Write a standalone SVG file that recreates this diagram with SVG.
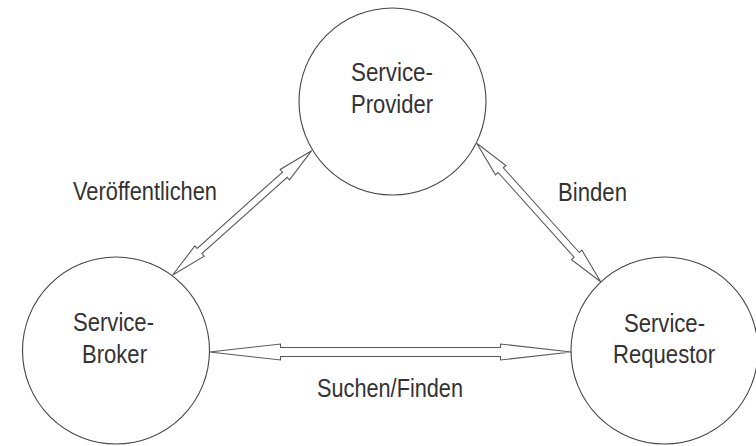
<svg xmlns="http://www.w3.org/2000/svg" width="756" height="446" viewBox="0 0 756 446">
  <style>
    .node { fill: #ffffff; stroke: #444444; stroke-width: 1.1; }
    .label { font-family: "Liberation Sans Narrow", "Liberation Sans", Arial, sans-serif; font-size: 25px; fill: #333333; }
    .arrow { fill: #ffffff; stroke: #5a5a5a; stroke-width: 1.1; stroke-linejoin: miter; }
  </style>
  <rect width="756" height="446" fill="#ffffff"/>

  <!-- hollow double-headed block arrows -->
  <g id="connectors">
    <polygon id="broker-provider" class="arrow" points="172.7,275 204.2,256.2 201.9,253.6 287.2,177.3 289.5,179.9 311.7,150.7 280.2,169.5 282.5,172.1 197.2,248.4 194.9,245.8"/>
    <polygon id="provider-requestor" class="arrow" points="476.7,143.3 495.5,174.8 498.1,172.5 574.1,257.2 571.5,259.6 600.7,281.7 581.9,250.2 579.3,252.5 503.3,167.8 505.9,165.5"/>
    <polygon id="broker-requestor" class="arrow" points="209.5,352 280.5,360 280.5,356.5 500.5,356.5 500.5,360 571.5,352 500.5,344 500.5,347.5 280.5,347.5 280.5,344"/>
    <text class="label" x="73" y="200" textLength="144" lengthAdjust="spacingAndGlyphs">Veröffentlichen</text>
    <text class="label" x="558" y="201" textLength="69" lengthAdjust="spacingAndGlyphs">Binden</text>
    <text class="label" x="317" y="397" textLength="146" lengthAdjust="spacingAndGlyphs">Suchen/Finden</text>
  </g>

  <g id="service-provider">
    <circle class="node" cx="392.5" cy="101.5" r="93.5"/>
    <text class="label" x="351" y="81" textLength="82" lengthAdjust="spacingAndGlyphs">Service-</text>
    <text class="label" x="351" y="113" textLength="82" lengthAdjust="spacingAndGlyphs">Provider</text>
  </g>

  <g id="service-broker">
    <circle class="node" cx="116" cy="350.5" r="93.5"/>
    <text class="label" x="73" y="331" textLength="81" lengthAdjust="spacingAndGlyphs">Service-</text>
    <text class="label" x="82" y="363" textLength="65" lengthAdjust="spacingAndGlyphs">Broker</text>
  </g>

  <g id="service-requestor">
    <circle class="node" cx="664.5" cy="350.5" r="93.5"/>
    <text class="label" x="624" y="332" textLength="81" lengthAdjust="spacingAndGlyphs">Service-</text>
    <text class="label" x="613" y="363" textLength="102" lengthAdjust="spacingAndGlyphs">Requestor</text>
  </g>
</svg>
